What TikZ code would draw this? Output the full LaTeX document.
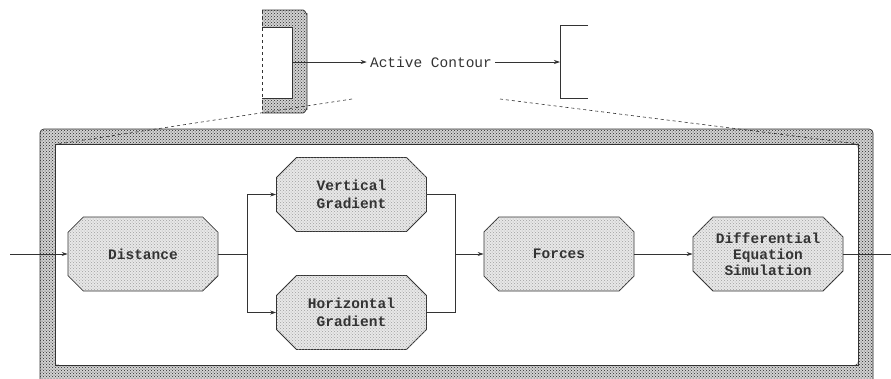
\documentclass[tikz,border=0pt]{standalone}
\usepackage{fontspec}
\setmonofont{Liberation Mono}
\usetikzlibrary{shapes.misc,patterns,arrows.meta}
\definecolor{linec}{HTML}{333333}
\begin{document}
\begin{tikzpicture}[x=1pt,y=-1pt,
  line width=0.7pt,
  >={Stealth[length=6pt,width=4pt]},
  box/.style={chamfered rectangle, chamfered rectangle xsep=10pt, chamfered rectangle ysep=10pt,
    draw=linec, line width=0.8pt, fill=gray!18,
    postaction={pattern=crosshatch dots, pattern color=gray!75},
    minimum width=150pt, minimum height=74pt, inner sep=0pt, align=center,
    text=linec, font=\ttfamily\bfseries\fontsize{14.5}{18}\selectfont},
  conn/.style={draw=linec, line width=0.7pt},
  hatch/.style={fill=gray!35, postaction={pattern=crosshatch dots, pattern color=black!85}},
  guide/.style={draw=linec, dashed, line width=0.6pt}
]
\clip (0,0) rectangle (891,378);
\fill[white] (0,0) rectangle (891,378);

% outer frame
\path[hatch, even odd rule, rounded corners=4pt] (40,129) rectangle (873,392) (55,144) rectangle (858,365);
\draw[linec, rounded corners=4pt] (40,129) rectangle (873,392);
\draw[linec] (55,144) rectangle (858,365);

% top bracket (hatched)
\path[hatch] (262,10) -- (303,10) to[out=0,in=-90] (307,14) -- (307,109) to[out=90,in=0] (303,113) -- (262,113) -- (262,98) -- (292,98) -- (292,27) -- (262,27) -- cycle;
\draw[linec, line width=0.8pt] (262,10) -- (303,10) to[out=0,in=-90] (307,14) -- (307,109) to[out=90,in=0] (303,113) -- (262,113);
\draw[linec, line width=0.5pt] (262,98) -- (292,98) -- (292,27) -- (262,27);
\draw[guide, line width=0.5pt] (262,10) -- (262,113);

% top label and right bracket
\coordinate (brk) at (293,62);
\node[inner xsep=3pt, text=linec, font=\ttfamily\fontsize{14.5}{18}\selectfont] (ac) at (431,62) {Active Contour};
\coordinate (rb) at (560,62);
\draw[conn,->] (brk) -- (ac.west);
\draw[conn,->] (ac.east) -- (rb);
\draw[linec, line width=0.8pt] (588,25) -- (560,25) -- (560,98) -- (588,98);

% dashed guide lines
\coordinate (g1) at (352,99);
\coordinate (g2) at (58,144);
\coordinate (g3) at (500,99);
\coordinate (g4) at (858,144);
\draw[guide] (g1) -- (g2);
\draw[guide] (g3) -- (g4);

% blocks
\node[box] (dist) at (143,254) {Distance};
\node[box] (vg) at (351.5,194.5) {Vertical\\Gradient};
\node[box] (hg) at (351.5,312.5) {Horizontal\\Gradient};
\node[box] (forces) at (559,254) {Forces};
\node[box] (de) at (768,254) {Differential\\[-2pt]Equation\\[-2pt]Simulation};

\coordinate (in) at (10,254);
\coordinate (s1) at (247,254);
\coordinate (s2) at (455,254);
\coordinate (out) at (895,254);

\draw[conn,->] (in) -- (dist.west);
\draw[conn] (dist.east) -- (s1);
\draw[conn,->] (s1) |- (vg.west);
\draw[conn,->] (s1) |- (hg.west);
\draw[conn] (vg.east) -| (s2);
\draw[conn] (hg.east) -| (s2);
\draw[conn,->] (s2) -- (forces.west);
\draw[conn,->] (forces.east) -- (de.west);
\draw[conn] (de.east) -- (out);
\end{tikzpicture}
\end{document}
